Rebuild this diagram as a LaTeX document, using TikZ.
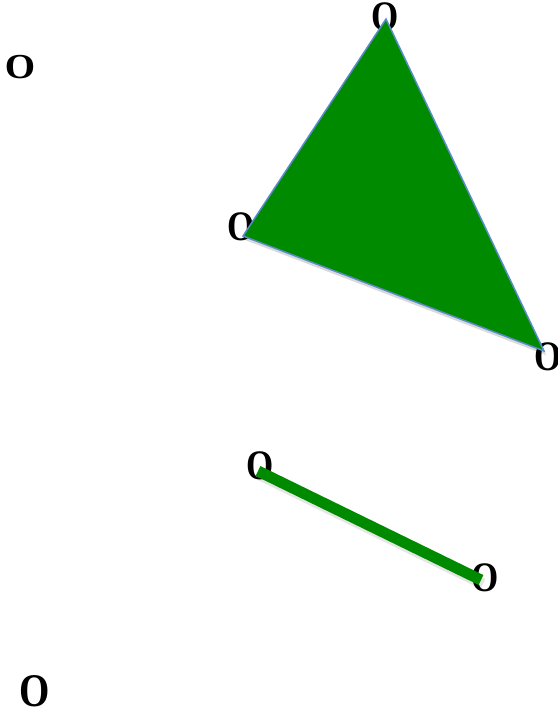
\documentclass[tikz,border=0pt]{standalone}
\usepackage{fontspec}
\setmainfont{Liberation Serif}
\usetikzlibrary{calc}
\definecolor{shapegreen}{RGB}{0,138,0}
\definecolor{edgeblue}{RGB}{90,140,200}
\begin{document}
\begin{tikzpicture}[x=1pt,y=-1pt,
  letter/.style={inner sep=0pt,font=\fontsize{39}{44}\selectfont\bfseries},
  vletter/.style={inner sep=0pt,yscale=1.2,font=\fontsize{35}{40}\selectfont\bfseries}]
\useasboundingbox (0,0) rectangle (557,714);
% free letters
\node[letter,yscale=0.9] (o1) at (20,67) {O};
\node[letter,yscale=1.2] (o2) at (35,691) {O};
% vertex letters
\node[vletter] (vt) at (385,17) {O};
\node[vletter] (vl) at (241,227) {O};
\node[vletter] (vr) at (548,357) {O};
\node[vletter] (la) at (260,466) {O};
\node[vletter] (lb) at (485,578) {O};
% vertex points
\coordinate (pt) at (386,19);
\coordinate (pl) at (243,236);
\coordinate (pr) at (544,351);
\coordinate (qa) at (258,471);
\coordinate (qb) at (481,580);
% triangle
\fill[black,opacity=0.15] ($(pt)+(2,4)$) -- ($(pr)+(2,4)$) -- ($(pl)+(2,4)$) -- cycle;
\filldraw[fill=shapegreen,draw=edgeblue,line width=1.5pt,line join=miter] (pt) -- (pr) -- (pl) -- cycle;
% line
\draw[black,opacity=0.1,line width=11pt] ($(qa)+(2,4)$) -- ($(qb)+(2,4)$);
\draw[shapegreen,line width=11pt] (qa) -- (qb);
\end{tikzpicture}
\end{document}
